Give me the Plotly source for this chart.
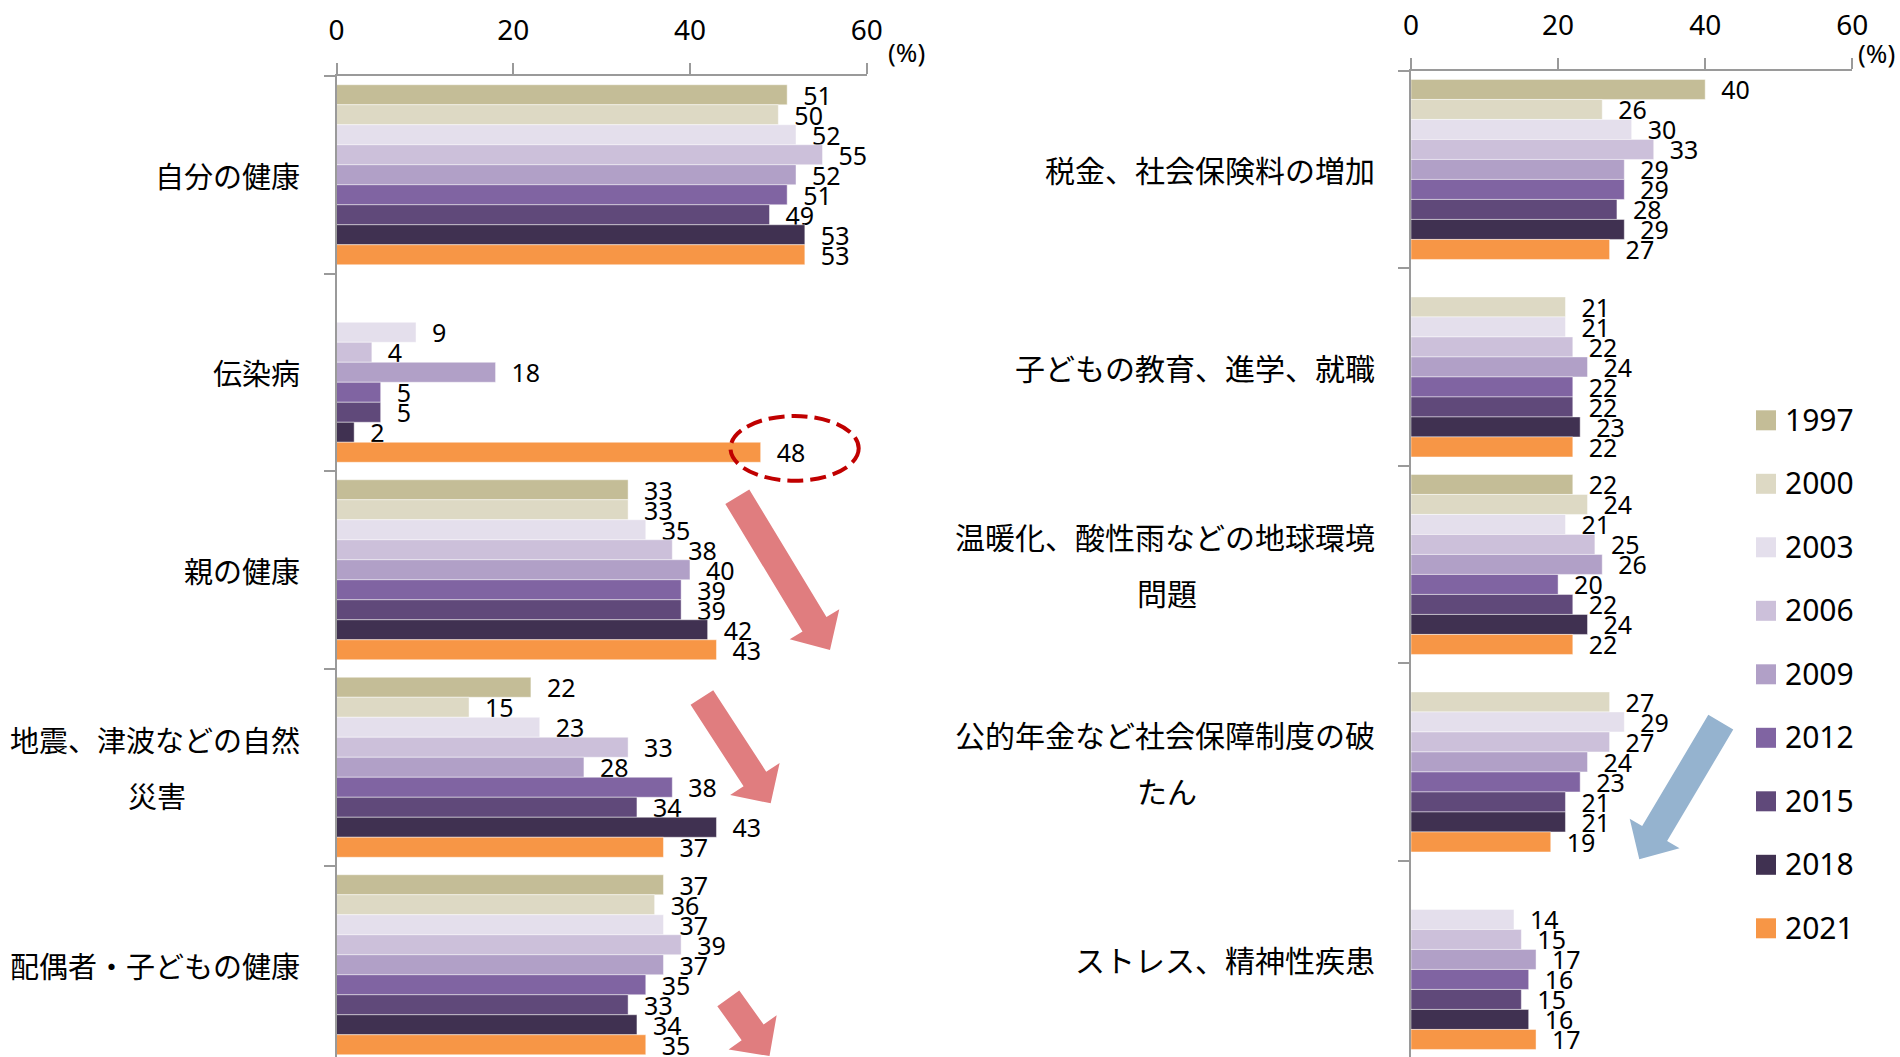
import math
import plotly.graph_objects as go

W, H = 1900, 1057

# ---------------- data ----------------
YEARS = ["1997", "2000", "2003", "2006", "2009", "2012", "2015", "2018", "2021"]
COLORS = ["#C4BD97", "#DDD9C4", "#E4DFEC", "#CCC0DA", "#B1A0C7",
          "#8064A2", "#60497A", "#403151", "#F79646"]

LEFT_LABELS = [["自分の健康"], ["伝染病"], ["親の健康"],
               ["地震、津波などの自然", "災害"], ["配偶者・子どもの健康"]]
RIGHT_LABELS = [["税金、社会保険料の増加"], ["子どもの教育、進学、就職"],
                ["温暖化、酸性雨などの地球環境", "問題"],
                ["公的年金など社会保障制度の破", "たん"], ["ストレス、精神性疾患"]]
LEFT_CATS = ["".join(l) for l in LEFT_LABELS]
RIGHT_CATS = ["".join(l) for l in RIGHT_LABELS]

# values per survey year (left panel categories, in order)
LEFT_1997 = [51, None, 33, 22, 37]
LEFT_2000 = [50, None, 33, 15, 36]
LEFT_2003 = [52, 9, 35, 23, 37]
LEFT_2006 = [55, 4, 38, 33, 39]
LEFT_2009 = [52, 18, 40, 28, 37]
LEFT_2012 = [51, 5, 39, 38, 35]
LEFT_2015 = [49, 5, 39, 34, 33]
LEFT_2018 = [53, 2, 42, 43, 34]
LEFT_2021 = [53, 48, 43, 37, 35]

# values per survey year (right panel categories, in order)
RIGHT_1997 = [40, None, 22, None, None]
RIGHT_2000 = [26, 21, 24, 27, None]
RIGHT_2003 = [30, 21, 21, 29, 14]
RIGHT_2006 = [33, 22, 25, 27, 15]
RIGHT_2009 = [29, 24, 26, 24, 17]
RIGHT_2012 = [29, 22, 20, 23, 16]
RIGHT_2015 = [28, 22, 22, 21, 15]
RIGHT_2018 = [29, 23, 24, 21, 16]
RIGHT_2021 = [27, 22, 22, 19, 17]

LEFT_VALUES = [LEFT_1997, LEFT_2000, LEFT_2003, LEFT_2006, LEFT_2009,
               LEFT_2012, LEFT_2015, LEFT_2018, LEFT_2021]
RIGHT_VALUES = [RIGHT_1997, RIGHT_2000, RIGHT_2003, RIGHT_2006, RIGHT_2009,
                RIGHT_2012, RIGHT_2015, RIGHT_2018, RIGHT_2021]

X_TICKS = [0, 20, 40, 60]
X_RANGE = [0, 60]
UNIT = "(%)"

# ---------------- styling helpers ----------------
JP = "Noto Sans CJK JP"
NUM = "Noto Sans, sans-serif"
AXIS_GREY = "#9A9A9A"


def px(x):
    return x / W


def py(y):
    return 1 - y / H


def label(v):
    return "" if v is None else "\u00a0\u00a0" + str(v)


fig = go.Figure()

for i, year in enumerate(YEARS):
    fig.add_trace(go.Bar(
        y=LEFT_CATS, x=LEFT_VALUES[i], orientation="h", name=year,
        marker=dict(color=COLORS[i],
                    line=dict(width=1, color="rgba(255,255,255,0.45)")),
        text=[label(v) for v in LEFT_VALUES[i]], textposition="outside",
        constraintext="none", cliponaxis=False,
        textfont=dict(family=NUM, size=25, color="#000"),
        xaxis="x", yaxis="y", showlegend=False, hoverinfo="skip"))
    fig.add_trace(go.Bar(
        y=RIGHT_CATS, x=RIGHT_VALUES[i], orientation="h", name=year,
        marker=dict(color=COLORS[i],
                    line=dict(width=1, color="rgba(255,255,255,0.45)")),
        text=[label(v) for v in RIGHT_VALUES[i]], textposition="outside",
        constraintext="none", cliponaxis=False,
        textfont=dict(family=NUM, size=25, color="#000"),
        xaxis="x2", yaxis="y2", showlegend=False, hoverinfo="skip"))

CAT_PX = 197.5
L_TOP, R_TOP = 76, 70.7
L_X0, L_X1 = 336.5, 866.7
R_X0, R_X1 = 1411, 1852.3

xcommon = dict(range=X_RANGE, tickvals=X_TICKS, side="top", ticks="outside",
               ticklen=11, tickwidth=2, tickcolor=AXIS_GREY, showline=True,
               linecolor=AXIS_GREY, linewidth=2, showgrid=False, zeroline=False,
               tickfont=dict(family="Noto Sans", size=28, color="#000"),
               ticklabelstandoff=12,
               automargin=False, fixedrange=True)
ycommon = dict(type="category", showticklabels=False, ticks="outside",
               tickson="boundaries", ticklen=11, tickwidth=2,
               tickcolor=AXIS_GREY, showline=True, linecolor=AXIS_GREY,
               linewidth=2, showgrid=False, zeroline=False, automargin=False,
               fixedrange=True)

fig.update_layout(
    width=W, height=H, autosize=False,
    margin=dict(l=0, r=0, t=0, b=0, pad=0),
    paper_bgcolor="white", plot_bgcolor="white",
    barmode="group", bargap=0.0886, bargroupgap=0,
    showlegend=False,
    xaxis=dict(domain=[px(L_X0), px(L_X1)], anchor="y", **xcommon),
    yaxis=dict(domain=[0, py(L_TOP)], anchor="x", categoryarray=LEFT_CATS,
               range=[-0.5 + (H - L_TOP) / CAT_PX, -0.5], **ycommon),
    xaxis2=dict(domain=[px(R_X0), px(R_X1)], anchor="y2", **xcommon),
    yaxis2=dict(domain=[0, py(R_TOP)], anchor="x2", categoryarray=RIGHT_CATS,
                range=[-0.5 + (H - R_TOP) / CAT_PX, -0.5], **ycommon),
)

annotations = []
shapes = []


def add_cat_labels(labels, cats, yref, right_px, fs):
    for lines, cat in zip(labels, cats):
        if len(lines) == 1:
            annotations.append(dict(
                x=px(right_px), xref="paper", y=cat, yref=yref,
                xanchor="right", yanchor="middle", showarrow=False,
                text=lines[0], font=dict(family=JP, size=fs, color="#000")))
        else:
            w1 = len(lines[0]) * fs
            annotations.append(dict(
                x=px(right_px), xref="paper", y=cat, yref=yref, yshift=28,
                xanchor="right", yanchor="middle", showarrow=False,
                text=lines[0], font=dict(family=JP, size=fs, color="#000")))
            annotations.append(dict(
                x=px(right_px - w1 / 2), xref="paper", y=cat, yref=yref,
                yshift=-28, xanchor="center", yanchor="middle",
                showarrow=False, text=lines[1],
                font=dict(family=JP, size=fs, color="#000")))


add_cat_labels(LEFT_LABELS, LEFT_CATS, "y", 301.7, 29)
add_cat_labels(RIGHT_LABELS, RIGHT_CATS, "y2", 1376.7, 30)

# unit labels
for cx, cy in [(906, 52), (1876.7, 53)]:
    annotations.append(dict(x=px(cx), y=py(cy), xref="paper", yref="paper",
                            xanchor="center", yanchor="middle", showarrow=False,
                            text=UNIT,
                            font=dict(family="Noto Sans", size=26, color="#000")))

# custom legend
for i, (year, col) in enumerate(zip(YEARS, COLORS)):
    cy = 420.3 + 63.5 * i
    shapes.append(dict(type="rect", xref="paper", yref="paper",
                       x0=px(1756), x1=px(1776), y0=py(cy + 10), y1=py(cy - 10),
                       fillcolor=col, line=dict(width=0)))
    annotations.append(dict(x=px(1783), y=py(cy - 1), xref="paper", yref="paper",
                            xanchor="left", yanchor="middle", showarrow=False,
                            text=year,
                            font=dict(family="Noto Sans", size=30, color="#000")))


# block arrows (decoration)
def block_arrow(sx, sy, tx, ty, shaft_w, head_w, head_len, color):
    dx, dy = tx - sx, ty - sy
    L = math.hypot(dx, dy)
    ux, uy = dx / L, dy / L
    nx, ny = -uy, ux
    bx, by = tx - ux * head_len, ty - uy * head_len
    pts = [
        (sx + nx * shaft_w / 2, sy + ny * shaft_w / 2),
        (bx + nx * shaft_w / 2, by + ny * shaft_w / 2),
        (bx + nx * head_w / 2, by + ny * head_w / 2),
        (tx, ty),
        (bx - nx * head_w / 2, by - ny * head_w / 2),
        (bx - nx * shaft_w / 2, by - ny * shaft_w / 2),
        (sx - nx * shaft_w / 2, sy - ny * shaft_w / 2),
    ]
    path = "M " + " L ".join(f"{px(x):.5f},{py(y):.5f}" for x, y in pts) + " Z"
    return dict(type="path", xref="paper", yref="paper", path=path,
                fillcolor=color, line=dict(width=0), layer="above")


PINK = "#E07D7F"
BLUE = "#95B3CF"
shapes.append(block_arrow(737.3, 496.7, 830, 650, 28, 58, 30, PINK))
shapes.append(block_arrow(701.9, 697.5, 770.7, 803.3, 27, 59, 29, PINK))
shapes.append(block_arrow(728.3, 998.3, 769.5, 1056, 27, 59, 29, PINK))
shapes.append(block_arrow(1720.8, 722.2, 1639.3, 859.3, 29, 58, 30, BLUE))

# dashed ellipse highlighting the 2021 value for 伝染病
shapes.append(dict(type="circle", xref="paper", yref="paper",
                   x0=px(730.5), x1=px(858.7), y0=py(480.7), y1=py(416),
                   line=dict(color="#C00000", width=4, dash="16px,7px"),
                   fillcolor="rgba(0,0,0,0)", layer="above"))

fig.update_layout(annotations=annotations, shapes=shapes)

fig.write_html("out.html")
